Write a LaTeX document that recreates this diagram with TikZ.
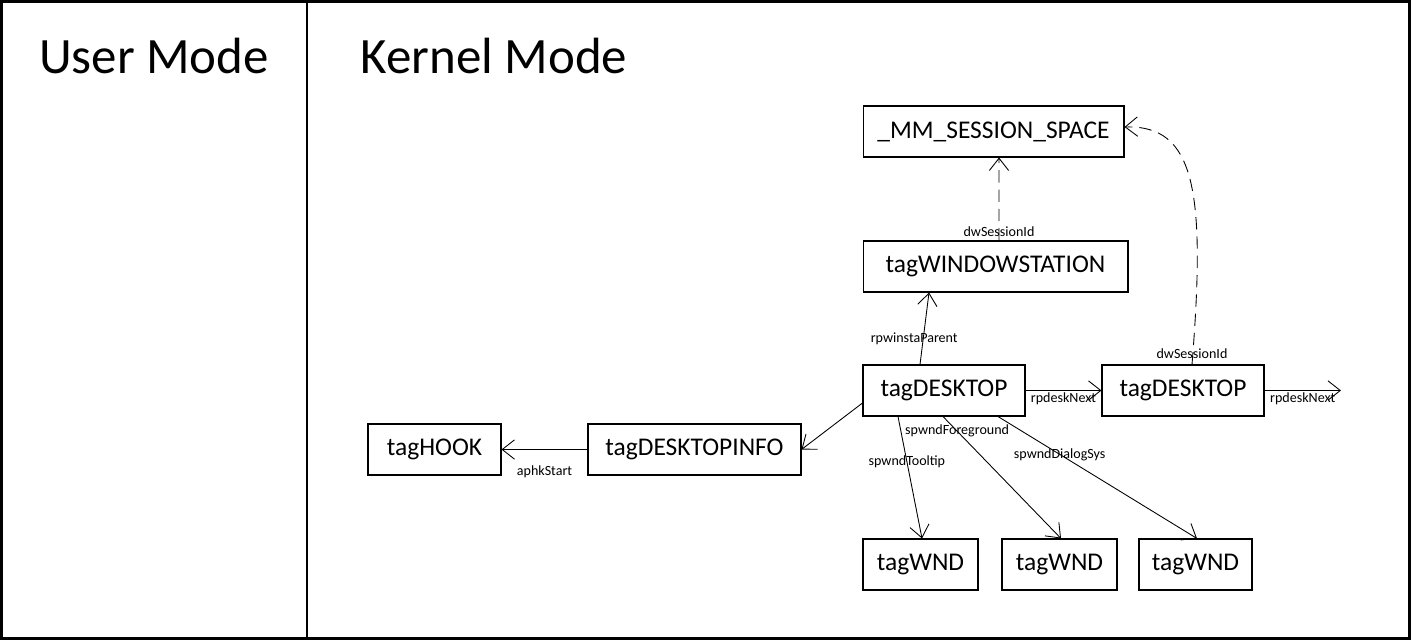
\documentclass[tikz,border=0pt]{standalone}
\usepackage{fontspec}
\setmainfont{Carlito}
\usetikzlibrary{arrows.meta}
\begin{document}
\begin{tikzpicture}[x=0.02cm,y=-0.02cm,
  caja/.style={draw,line width=0.6pt,minimum height=1.02cm,inner sep=0pt,font=\fontsize{14.5}{17}\selectfont},
  flecha/.style={-{Straight Barb[length=7pt,width=11pt]},line width=0.5pt},
  punteada/.style={flecha,dash pattern=on 7pt off 4pt},
  etiq/.style={font=\fontsize{8}{9}\selectfont,inner sep=1pt},
  titulo/.style={font=\fontsize{29}{34}\selectfont}]
\useasboundingbox (0,0) rectangle (1411,640);

% Marco y division
\draw[line width=1.7pt] (1.5,1.5) rectangle (1409.5,638.5);
\draw[line width=0.6pt] (307,0) -- (307,640);
\node[titulo] (umode) at (154,56) {User Mode};
\node[titulo] (kmode) at (494,56) {Kernel Mode};

% Cajas
\node[caja,minimum width=5.22cm] (mm) at (993.5,131.5) {\_MM\_SESSION\_SPACE};
\node[caja,minimum width=5.30cm] (winsta) at (995.5,266.5) {tagWINDOWSTATION};
\node[caja,minimum width=3.24cm] (deskA) at (944,390.5) {tagDESKTOP};
\node[caja,minimum width=3.24cm] (deskB) at (1183,390.5) {tagDESKTOP};
\node[caja,minimum width=4.26cm] (info) at (694.5,449.5) {tagDESKTOPINFO};
\node[caja,minimum width=2.66cm] (hook) at (434.5,449.5) {tagHOOK};
\node[caja,minimum width=2.30cm] (wndA) at (920.5,564.5) {tagWND};
\node[caja,minimum width=2.30cm] (wndB) at (1059.5,564.5) {tagWND};
\node[caja,minimum width=2.26cm] (wndC) at (1195.5,564.5) {tagWND};
\coordinate (fin) at (1341,390.5);

% Sesion
\draw[punteada] ([xshift=0.07cm]winsta.north) -- ([xshift=0.11cm]mm.south) node[etiq,pos=0,above=1pt] {dwSessionId};
\draw[punteada] ([xshift=0.18cm]deskB.north) .. controls (1206,190) and (1195,125) .. ([yshift=0.09cm]mm.east)
  node[etiq,pos=0,above=2pt] {dwSessionId};

% Escritorios
\draw[flecha] ([xshift=-0.48cm]deskA.north) -- ([xshift=-1.33cm]winsta.south)
  node[etiq,pos=0.36,xshift=-0.18cm] {rpwinstaParent};
\draw[flecha] (deskA.east) -- (deskB.west) node[etiq,midway,below=0pt] {rpdeskNext};
\draw[flecha] (deskB.east) -- (fin) node[etiq,midway,below=0pt] {rpdeskNext};
\draw[flecha] ([yshift=-0.25cm]deskA.west) -- (info.east);
\draw[flecha] (info.west) -- (hook.east) node[etiq,midway,below=8pt] {aphkStart};

% Ventanas
\draw[flecha] ([xshift=-0.92cm]deskA.south) -- ([xshift=0.03cm]wndA.north) node[etiq,pos=0.37] {spwndTooltip};
\draw[flecha] ([xshift=-0.02cm]deskA.south) -- ([xshift=0.03cm]wndB.north) node[etiq,pos=0.12] {spwndForeground};
\draw[flecha] ([xshift=1.08cm]deskA.south) -- ([xshift=0.03cm]wndC.north) node[etiq,pos=0.31] {spwndDialogSys};

\end{tikzpicture}
\end{document}
